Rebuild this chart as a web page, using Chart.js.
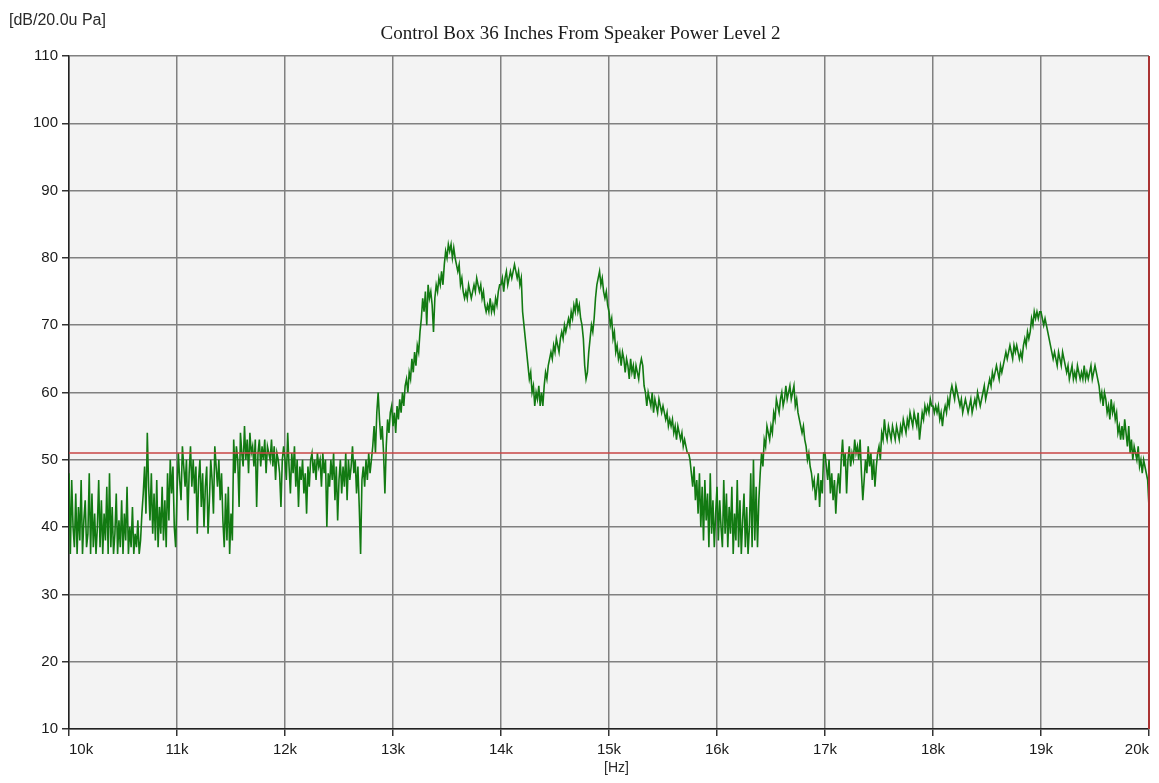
<!DOCTYPE html>
<html>
<head>
<meta charset="utf-8">
<title>Control Box 36 Inches From Speaker Power Level 2</title>
<script src="https://cdn.jsdelivr.net/npm/chart.js@4.4.1/dist/chart.umd.min.js"></script>
<style>
  html, body { margin: 0; padding: 0; background: #ffffff; }
  canvas { display: block; }
</style>
</head>
<body>
<canvas id="spectrum" width="1159" height="783"></canvas>
<script>
// Sound pressure level spectrum, 10 kHz - 20 kHz, 12.5 Hz bins.
// Levels in dB re 20 uPa, one array per 1 kHz band; the first bin sits at the band start.
const BIN_HZ = 12.5;

const lvl10k = [
  48, 36, 47, 40, 37, 45, 36, 43, 38, 47,
  36, 41, 44, 37, 39, 48, 36, 45, 37, 42,
  36, 40, 47, 37, 44, 36, 42, 38, 46, 36,
  48, 37, 43, 36, 39, 45, 36, 41, 37, 44,
  36, 42, 38, 46, 36, 40, 37, 43, 36, 39,
  37, 41, 36, 38, 42, 45, 49, 42, 54, 46,
  41, 48, 39, 45, 38, 47, 37, 43, 39, 46,
  38, 44, 37, 48, 41, 50, 45, 49, 40, 37
];
const lvl11k = [
  45, 51, 47, 44, 52, 49, 46, 50, 41, 48,
  52, 46, 50, 45, 49, 39, 47, 50, 43, 48,
  40, 46, 49, 39, 44, 50, 47, 42, 52, 49,
  46, 50, 44, 48, 41, 37, 45, 38, 46, 36,
  42, 38, 53, 48, 52, 50, 43, 54, 51, 49,
  55, 50, 53, 48, 54, 51, 52, 49, 53, 43,
  51, 53, 49, 52, 50, 53, 48, 52, 51, 50,
  53, 49, 52, 47, 51, 50, 48, 43, 50, 52
];
const lvl12k = [
  50, 47, 54, 49, 45, 51, 48, 52, 46, 50,
  43, 49, 47, 50, 45, 48, 42, 49, 46, 50,
  51, 48, 50, 47, 51, 49, 50, 46, 51, 48,
  50, 40, 48, 46, 50, 47, 51, 44, 49, 41,
  47, 50, 45, 49, 46, 51, 44, 50, 47, 49,
  52, 48, 50, 45, 49, 43, 36, 47, 49, 46,
  50, 47, 51, 48, 50, 52, 55, 51, 57, 60,
  56, 53, 55, 51, 45, 52, 56, 54, 57, 58
];
const lvl13k = [
  55, 57, 54, 58, 56, 59, 57, 60, 58, 61,
  62, 60, 63, 62, 65, 63, 66, 64, 67, 66,
  69, 71, 74, 72, 75, 70, 76, 74, 75, 73,
  69, 74, 76, 75, 77, 76, 78, 76, 79, 81,
  80, 82, 81, 82, 80, 81.5, 80, 79, 78, 79,
  76, 77, 75, 74, 75, 74, 76, 75, 74, 75,
  76, 75, 77, 76, 75, 76, 74, 75, 73, 72,
  73, 72, 74, 72, 73, 72, 74, 73, 75, 76
];
const lvl14k = [
  76, 77, 75, 77, 78, 76, 77, 78, 77, 78,
  79, 78, 77, 78, 76, 77, 72, 70, 68, 66,
  64, 62, 63, 60, 61, 58, 60, 59, 61, 58,
  60, 58, 61, 63, 62, 64, 65, 66, 65, 67,
  66, 68, 67, 66, 68, 69, 68, 70, 69, 70,
  71, 70, 72, 71, 73, 72, 74, 72, 73, 71,
  70, 68, 64, 62, 63, 66, 68, 70, 69, 71,
  74, 76, 77, 78, 76, 77, 75, 74, 75, 73
];
const lvl15k = [
  72, 70, 71, 68, 69, 66, 67, 65, 66, 64,
  66, 65, 63, 65, 64, 62, 65, 63, 64, 62,
  64, 63, 62, 64, 65, 64, 61, 60, 58, 60,
  59, 58, 60, 57, 59, 58, 57, 59, 58, 57,
  58, 57, 56, 57, 55, 56, 55, 56, 54, 55,
  53, 55, 54, 53, 54, 52, 53, 52, 51, 51,
  50, 48, 46, 49, 44, 47, 42, 48, 40, 46,
  38, 47, 41, 45, 37, 48, 39, 44, 37, 42
];
const lvl16k = [
  46, 38, 44, 40, 37, 47, 39, 45, 37, 43,
  39, 46, 36, 42, 38, 47, 37, 44, 36, 41,
  45, 37, 43, 36, 40, 48, 37, 50, 38, 46,
  37, 44, 48, 51, 49, 53, 52, 55, 54, 53,
  55, 54, 57, 56, 59, 58, 57, 59, 60, 58,
  59, 61, 59, 60, 61, 59, 60, 61, 58, 59,
  57, 56, 55, 54, 55, 53, 52, 50, 51, 49,
  48, 46, 47, 44, 46, 48, 43, 47, 45, 51
];
const lvl17k = [
  51, 49, 47, 50, 45, 48, 44, 47, 42, 46,
  48, 45, 50, 53, 49, 51, 45, 50, 52, 49,
  51, 50, 53, 51, 52, 50, 53, 48, 44, 47,
  50, 48, 52, 49, 51, 47, 50, 46, 49, 51,
  52, 50, 54, 53, 56, 54, 53, 55, 54, 53,
  55, 54, 53, 55, 54, 53, 55, 54, 56, 55,
  54, 56, 55, 57, 56, 55, 57, 56, 55, 57,
  53, 55, 57, 56, 58, 57, 58, 57, 59, 58
];
const lvl18k = [
  58, 57, 58, 57, 58, 56, 57, 55, 57, 58,
  57, 59, 58, 60, 61, 60, 59, 61, 60, 59,
  58, 59, 57, 58, 59, 58, 57, 58, 59, 57,
  58, 59, 58, 60, 59, 58, 59, 60, 61, 59,
  60, 61, 62, 61, 63, 62, 63, 64, 63, 62,
  64, 63, 64, 65, 66, 65, 66, 67, 66, 65,
  67, 66, 67, 66, 65, 66, 65, 67, 68, 67,
  69, 68, 69, 71, 70, 72, 71, 72, 71, 72
];
// last value sits at 20 kHz
const lvl19k = [
  72, 71, 70, 71, 70, 69, 68, 67, 66, 65,
  66, 65, 64, 66, 65, 64, 66, 65, 64, 63,
  64, 62, 63, 64, 62, 63, 62, 64, 63, 62,
  63, 62, 64, 62, 63, 62, 63, 64, 62, 63,
  64, 63, 62, 61, 59, 60, 58, 60, 59, 57,
  58, 56, 59, 57, 58, 56, 57, 54, 55, 53,
  55, 53, 56, 54, 52, 55, 51, 53, 50, 52,
  51, 50, 52, 49, 50, 48, 50, 49, 48, 47,
  43
];

// Band start frequencies (Hz), paired with the arrays above.
const bandStartHz = [10000, 11000, 12000, 13000, 14000, 15000, 16000, 17000, 18000, 19000];
const bandLevels  = [lvl10k, lvl11k, lvl12k, lvl13k, lvl14k, lvl15k, lvl16k, lvl17k, lvl18k, lvl19k];

// Cursor lines: reference level and marker frequency.
const refLevelDb = [51];
const markerHz = [20000];

// Axis ticks.
const xTickHz = [10000, 11000, 12000, 13000, 14000, 15000, 16000, 17000, 18000, 19000, 20000];
const xTickLabels = ['10k', '11k', '12k', '13k', '14k', '15k', '16k', '17k', '18k', '19k', '20k'];
const yTickDb = [10, 20, 30, 40, 50, 60, 70, 80, 90, 100, 110];

const titleText = 'Control Box 36 Inches From Speaker Power Level 2';
const yUnitText = '[dB/20.0u Pa]';
const xUnitText = '[Hz]';

// Build the trace points from the band arrays.
const tracePoints = [];
bandLevels.forEach((levels, b) => {
  levels.forEach((db, i) => {
    tracePoints.push({ x: bandStartHz[b] + i * BIN_HZ, y: db });
  });
});

const xMin = xTickHz[0], xMax = xTickHz[xTickHz.length - 1];
const yMin = yTickDb[0], yMax = yTickDb[yTickDb.length - 1];

const refLinePoints = [{ x: xMin, y: refLevelDb[0] }, { x: xMax, y: refLevelDb[0] }];
const markerLinePoints = [{ x: markerHz[0], y: yMin }, { x: markerHz[0], y: yMax }];

const sansFamily = '"Liberation Sans", Arial, sans-serif';
const serifFamily = '"Liberation Serif", "Times New Roman", serif';

// Light grey plot background, the heading (centred on the whole canvas) and the unit captions.
const plotDecor = {
  id: 'plotDecor',
  beforeDraw(chart) {
    const { ctx, chartArea: a } = chart;
    ctx.save();
    ctx.fillStyle = '#f3f3f3';
    ctx.fillRect(a.left, a.top, a.right - a.left, a.bottom - a.top);
    ctx.restore();
  },
  afterDraw(chart) {
    const { ctx, chartArea: a, width } = chart;
    ctx.save();
    ctx.textBaseline = 'middle';

    ctx.fillStyle = '#1a1a1a';
    ctx.font = '19px ' + serifFamily;
    ctx.textAlign = 'center';
    ctx.fillText(titleText, width / 2 + 1, 34);

    ctx.fillStyle = '#2a2a2a';
    ctx.font = '16px ' + sansFamily;
    ctx.textAlign = 'left';
    ctx.fillText(yUnitText, 9, 21);

    ctx.font = '14px ' + sansFamily;
    ctx.textAlign = 'center';
    const xs = chart.scales.x;
    ctx.fillText(xUnitText, xs.getPixelForValue(15070), a.bottom + 39);
    ctx.restore();
  }
};

const tickFont = { family: sansFamily, size: 15 };

new Chart(document.getElementById('spectrum'), {
  type: 'line',
  data: {
    datasets: [
      {
        label: 'Level',
        data: tracePoints,
        borderColor: '#127a12',
        borderWidth: 1.6,
        pointRadius: 0,
        tension: 0,
        order: 3
      },
      {
        label: 'Reference',
        data: refLinePoints,
        borderColor: 'rgb(200, 70, 70)',
        borderWidth: 1.5,
        pointRadius: 0,
        clip: false,
        order: 1
      },
      {
        label: 'Marker',
        data: markerLinePoints,
        borderColor: 'rgb(170, 50, 50)',
        borderWidth: 2,
        pointRadius: 0,
        clip: false,
        order: 2
      }
    ]
  },
  options: {
    responsive: false,
    animation: false,
    events: [],
    layout: { padding: { top: 56, right: 10, bottom: 0, left: 0 } },
    plugins: {
      legend: { display: false },
      tooltip: { enabled: false },
      title: { display: false }
    },
    scales: {
      x: {
        type: 'linear',
        min: xMin,
        max: xMax,
        afterFit(scale) { scale.height = 54; },
        afterBuildTicks(scale) { scale.ticks = xTickHz.map(v => ({ value: v })); },
        ticks: {
          align: 'inner',
          padding: 5,
          color: '#1a1a1a',
          font: tickFont,
          maxRotation: 0,
          autoSkip: false,
          callback: (v, i) => xTickLabels[i]
        },
        grid: { color: '#808080', lineWidth: 1.5, tickLength: 7, tickColor: '#333333' },
        border: { color: '#222222', width: 1.5 }
      },
      y: {
        min: yMin,
        max: yMax,
        afterFit(scale) { scale.width = 69; },
        afterBuildTicks(scale) { scale.ticks = yTickDb.map(v => ({ value: v })); },
        ticks: {
          padding: 4,
          color: '#1a1a1a',
          font: tickFont,
          callback: (v) => String(v)
        },
        grid: { color: '#808080', lineWidth: 1.5, tickLength: 7, tickColor: '#333333' },
        border: { color: '#222222', width: 1.5 }
      }
    }
  },
  plugins: [plotDecor]
});
</script>
</body>
</html>
